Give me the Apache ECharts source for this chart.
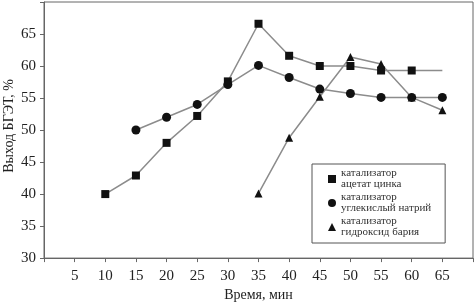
<!DOCTYPE html>
<html>
<head>
<meta charset="utf-8">
<script src="https://cdn.jsdelivr.net/npm/echarts@6/dist/echarts.min.js"></script>
<style>
  html, body { margin: 0; padding: 0; background: #fff; }
  #chart { width: 476px; height: 307px; }
</style>
</head>
<body>
<div id="chart"></div>
<script>
// время, мин
const xValues = [10, 15, 20, 25, 30, 35, 40, 45, 50, 55, 60, 65];
// выход БГЭТ, %
const zincAcetate = [40, 42.9, 48, 52.2, 57.6, 66.6, 61.6, 60, 60, 59.3, 59.3, 59.3];
const sodiumCarbonate = [null, 50, 52, 54, 57.1, 60.1, 58.2, 56.4, 55.7, 55.1, 55.1, 55.1];
const bariumHydroxide = [null, null, null, null, null, 40.1, 48.8, 55.2, 61.4, 60.3, 55.1, 53.1];
const seriesNames = ['катализатор\nацетат цинка', 'катализатор\nуглекислый натрий', 'катализатор\nгидроксид бария'];
const seriesSymbols = ['rect', 'circle', 'triangle'];

const font = 'Liberation Serif, DejaVu Serif, serif';

function pairs(vals) {
    const out = [];
    vals.forEach((v, i) => { if (v != null) out.push([xValues[i], v]); });
    return out;
}

const zincData = pairs(zincAcetate).map((p, i, arr) =>
    i === arr.length - 1 ? { value: p, symbol: 'none' } : p);

const chart = echarts.init(document.getElementById('chart'));
const lineStyle = { color: '#8c8c8c', width: 1.5 };
chart.setOption({
    animation: false,
    grid: {
        left: 44, right: 2, top: 2, bottom: 45,
        show: true, borderColor: '#666', borderWidth: 1
    },
    legend: {
        orient: 'vertical',
        left: 312, top: 164,
        padding: [4, 14, 5, 16],
        itemGap: 2,
        itemWidth: 8, itemHeight: 8,
        backgroundColor: '#fff',
        borderColor: '#555', borderWidth: 1,
        textStyle: { fontFamily: font, fontSize: 11, color: '#333', lineHeight: 11 },
        data: seriesNames.map((n, i) => ({ name: n, icon: seriesSymbols[i] })),
        itemStyle: { color: '#111' }
    },
    xAxis: {
        type: 'value',
        min: 0, max: 70, interval: 5,
        name: 'Время, мин',
        nameLocation: 'middle',
        nameGap: 29,
        nameTextStyle: { fontFamily: font, fontSize: 14, color: '#222' },
        axisLine: { lineStyle: { color: '#666' } },
        axisTick: { lineStyle: { color: '#666' }, length: 4 },
        splitLine: { show: false },
        axisLabel: {
            fontFamily: font, fontSize: 15, color: '#222', margin: 10,
            formatter: v => (v === 0 || v === 70) ? '' : v
        }
    },
    yAxis: {
        type: 'value',
        min: 30, max: 70, interval: 5,
        axisLine: { show: true, lineStyle: { color: '#666' } },
        axisTick: { show: true, lineStyle: { color: '#666' }, length: 4 },
        splitLine: { show: false },
        axisLabel: {
            fontFamily: font, fontSize: 15, color: '#222', margin: 8,
            formatter: v => v === 70 ? '' : v
        }
    },
    graphic: [{
        type: 'text',
        x: 9, y: 126,
        rotation: Math.PI / 2,
        style: {
            text: 'Выход БГЭТ, %',
            fontFamily: font, fontSize: 14, fill: '#222',
            align: 'center', verticalAlign: 'middle'
        }
    }],
    series: [{
        name: seriesNames[0], type: 'line', data: zincData,
        symbol: 'rect', symbolSize: 8,
        itemStyle: { color: '#111' }, lineStyle: lineStyle
    }, {
        name: seriesNames[1], type: 'line', data: pairs(sodiumCarbonate),
        symbol: 'circle', symbolSize: 9,
        itemStyle: { color: '#111' }, lineStyle: lineStyle
    }, {
        name: seriesNames[2], type: 'line', data: pairs(bariumHydroxide),
        symbol: 'triangle', symbolSize: 8,
        itemStyle: { color: '#111' }, lineStyle: lineStyle
    }]
});
</script>
</body>
</html>
